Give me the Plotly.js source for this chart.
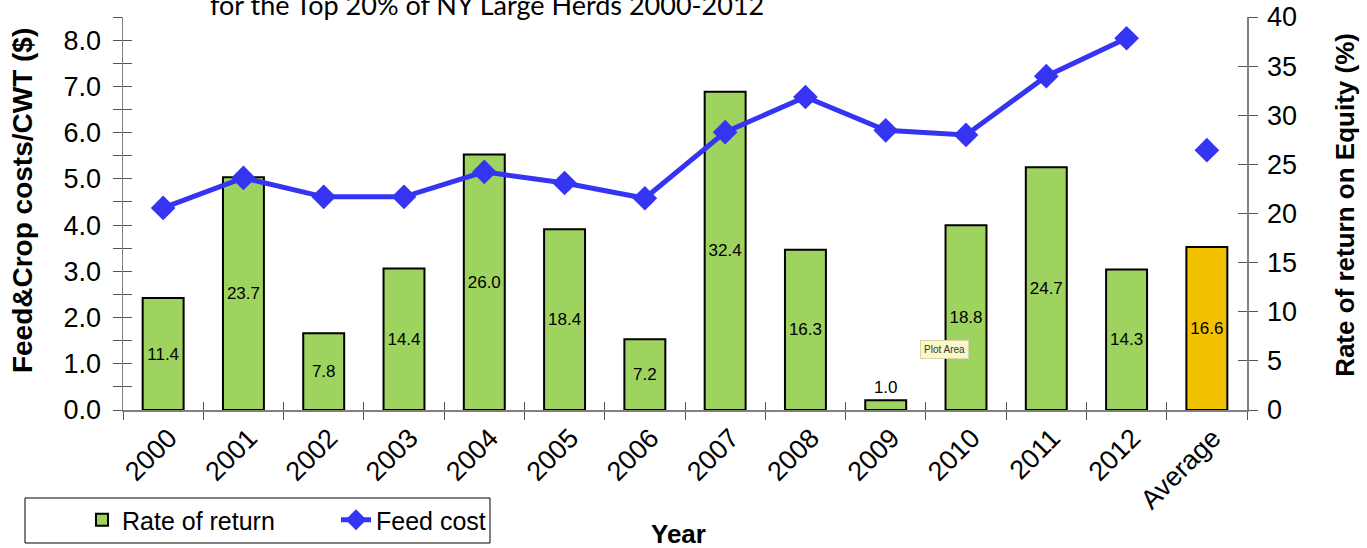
<!DOCTYPE html>
<html>
<head>
<meta charset="utf-8">
<script src="https://cdn.plot.ly/plotly-3.0.1.min.js"></script>
<style>html,body{margin:0;padding:0;background:#fff;}#chart{width:1367px;height:548px;}</style>
</head>
<body>
<div id="chart"></div>
<script>
// Data
var categories = ["2000","2001","2002","2003","2004","2005","2006","2007","2008","2009","2010","2011","2012","Average"];
var rateOfReturn = [11.4, 23.7, 7.8, 14.4, 26.0, 18.4, 7.2, 32.4, 16.3, 1.0, 18.8, 24.7, 14.3, 16.6];
var feedYears = ["2000","2001","2002","2003","2004","2005","2006","2007","2008","2009","2010","2011","2012"];
var feedCost = [4.37, 5.02, 4.61, 4.61, 5.15, 4.91, 4.58, 6.01, 6.77, 6.05, 5.95, 7.22, 8.04];
var feedAvgCat = ["Average"];
var feedAvg = [5.62];
var leftTicks = [0,1,2,3,4,5,6,7,8];
var rightTicks = [0,5,10,15,20,25,30,35,40];

var green = "#9fd35f";
var gold = "#f2c200";
var blue = "#3434f2";

var barColors = categories.map(function(c){ return c === "Average" ? gold : green; });
var labelFont = {family: "Liberation Sans Narrow, Arial Narrow, Liberation Sans, sans-serif", size: 17, color: "#000"};

var traces = [
  {
    type: "bar",
    name: "Rate of return",
    x: categories,
    y: rateOfReturn,
    yaxis: "y",
    width: 0.51,
    marker: {color: barColors, line: {color: "#000", width: 2}},
    text: rateOfReturn.map(function(v){ return v.toFixed(1); }),
    texttemplate: "%{text}",
    textposition: "auto",
    insidetextanchor: "middle",
    textangle: 0,
    constraintext: "none",
    cliponaxis: false,
    textfont: labelFont,
    insidetextfont: labelFont,
    outsidetextfont: labelFont,
    hoverinfo: "x+y"
  },
  {
    type: "scatter",
    mode: "lines+markers",
    name: "Feed cost",
    x: feedYears,
    y: feedCost,
    yaxis: "y2",
    line: {color: blue, width: 5},
    marker: {symbol: "diamond", size: 19, color: blue},
    cliponaxis: false
  },
  {
    type: "scatter",
    mode: "markers",
    name: "Feed cost avg",
    showlegend: false,
    x: feedAvgCat,
    y: feedAvg,
    yaxis: "y2",
    marker: {symbol: "diamond", size: 19, color: blue},
    cliponaxis: false
  },
  // dummy traces for overlay tick axes (inner half of crossing ticks)
  {type: "scatter", x: [null], y: [null], xaxis: "x2", yaxis: "y3", showlegend: false, hoverinfo: "skip"},
  {type: "scatter", x: [null], y: [null], xaxis: "x2", yaxis: "y4", showlegend: false, hoverinfo: "skip"}
];

var axisGray = "#808080";
var tickFont = {family: "Liberation Sans, Arial, sans-serif", size: 27, color: "#000"};

var layout = {
  width: 1367,
  height: 548,
  margin: {l: 123, r: 120, t: 17, b: 138, autoexpand: false},
  paper_bgcolor: "#fff",
  plot_bgcolor: "rgba(0,0,0,0)",
  showlegend: true,
  xaxis: {
    type: "category",
    categoryorder: "array",
    categoryarray: categories,
    range: [-0.5, 13.5],
    automargin: false,
    tickangle: -45,
    tickfont: tickFont,
    ticklabelshift: 6,
    showgrid: false,
    zeroline: false,
    showline: true,
    linecolor: axisGray,
    linewidth: 1.5,
    ticks: "outside",
    tickson: "boundaries",
    ticklen: 8,
    tickcolor: "#555",
    tickwidth: 1,
    fixedrange: true
  },
  xaxis2: {
    overlaying: "x",
    anchor: "y",
    type: "linear",
    range: [-0.5, 13.5],
    automargin: false,
    tickmode: "linear",
    tick0: -0.5,
    dtick: 1,
    ticks: "inside",
    ticklen: 8,
    tickcolor: "#555",
    showticklabels: false,
    showgrid: false,
    zeroline: false,
    showline: false,
    fixedrange: true
  },
  // right axis: rate of return (bars)
  yaxis: {
    side: "right",
    range: [0, 40],
    automargin: false,
    tickvals: rightTicks,
    tickfont: tickFont,
    ticklabelstandoff: 4,
    showgrid: false,
    zeroline: false,
    showline: true,
    linecolor: axisGray,
    linewidth: 1.5,
    ticks: "outside",
    ticklen: 9,
    tickcolor: "#555",
    fixedrange: true
  },
  // left axis: feed cost (line)
  yaxis2: {
    overlaying: "y",
    side: "left",
    anchor: "x",
    range: [0, 8.5],
    automargin: false,
    tickvals: leftTicks,
    ticktext: leftTicks.map(function(v){ return v.toFixed(1); }),
    tickfont: tickFont,
    ticklabelstandoff: 6,
    showgrid: false,
    zeroline: false,
    showline: true,
    linecolor: axisGray,
    linewidth: 1.5,
    ticks: "outside",
    ticklen: 9,
    tickcolor: "#555",
    minor: {dtick: 0.5, tick0: 0, ticks: "outside", ticklen: 9, tickcolor: "#555", showgrid: false},
    fixedrange: true
  },
  yaxis3: {
    overlaying: "y",
    anchor: "x2",
    side: "left",
    range: [0, 8.5],
    automargin: false,
    tickmode: "linear",
    tick0: 0,
    dtick: 0.5,
    ticks: "inside",
    ticklen: 9,
    tickcolor: "#555",
    showticklabels: false,
    showgrid: false,
    zeroline: false,
    showline: false,
    fixedrange: true
  },
  yaxis4: {
    overlaying: "y",
    anchor: "x2",
    side: "right",
    range: [0, 40],
    automargin: false,
    tickmode: "linear",
    tick0: 0,
    dtick: 5,
    ticks: "inside",
    ticklen: 9,
    tickcolor: "#555",
    showticklabels: false,
    showgrid: false,
    zeroline: false,
    showline: false,
    fixedrange: true
  },
  legend: {
    orientation: "h",
    x: -0.0872,
    xanchor: "left",
    y: -0.2214,
    yanchor: "top",
    borderwidth: 0,
    bgcolor: "rgba(0,0,0,0)",
    font: {family: "Liberation Sans, Arial, sans-serif", size: 25, color: "#000"},
    indentation: 57,
    entrywidth: 152,
    entrywidthmode: "pixels",
    traceorder: "normal"
  },
  shapes: [
    {
      type: "rect",
      xref: "paper", yref: "paper",
      x0: -0.0872, x1: 0.3265,
      y0: -0.3384, y1: -0.2239,
      line: {color: "#000", width: 1},
      fillcolor: "#fff",
      layer: "below"
    }
  ],
  annotations: [
    {
      text: "for the Top 20% of NY Large Herds 2000-2012",
      xref: "paper", yref: "paper",
      x: 0.3234, y: 1.031,
      xanchor: "center", yanchor: "middle",
      showarrow: false,
      font: {family: "Lato, Open Sans, sans-serif", size: 27, color: "#000"}
    },
    {
      text: "<b>Feed&Crop costs/CWT ($)</b>",
      xref: "paper", yref: "paper",
      x: -0.0899, y: 0.534,
      xanchor: "center", yanchor: "middle",
      textangle: -90,
      showarrow: false,
      font: {family: "Liberation Sans, Arial, sans-serif", size: 28, color: "#000"}
    },
    {
      text: "<b>Rate of return on Equity (%)</b>",
      xref: "paper", yref: "paper",
      x: 1.0872, y: 0.522,
      xanchor: "center", yanchor: "middle",
      textangle: -90,
      showarrow: false,
      font: {family: "Liberation Sans, Arial, sans-serif", size: 26, color: "#000"}
    },
    {
      text: "<b>Year</b>",
      xref: "paper", yref: "paper",
      x: 0.494, y: -0.316,
      xanchor: "center", yanchor: "middle",
      showarrow: false,
      font: {family: "Liberation Sans, Arial, sans-serif", size: 26, color: "#000"}
    },
    {
      text: "Plot Area",
      xref: "paper", yref: "paper",
      x: 0.7305, y: 0.155,
      xanchor: "center", yanchor: "middle",
      showarrow: false,
      bgcolor: "#fbf8c8",
      bordercolor: "#d8d6a8",
      borderwidth: 1,
      borderpad: 3,
      font: {family: "Liberation Sans, Arial, sans-serif", size: 10, color: "#333"}
    }
  ]
};

Plotly.newPlot("chart", traces, layout, {displayModeBar: false, staticPlot: true});
</script>
</body>
</html>
